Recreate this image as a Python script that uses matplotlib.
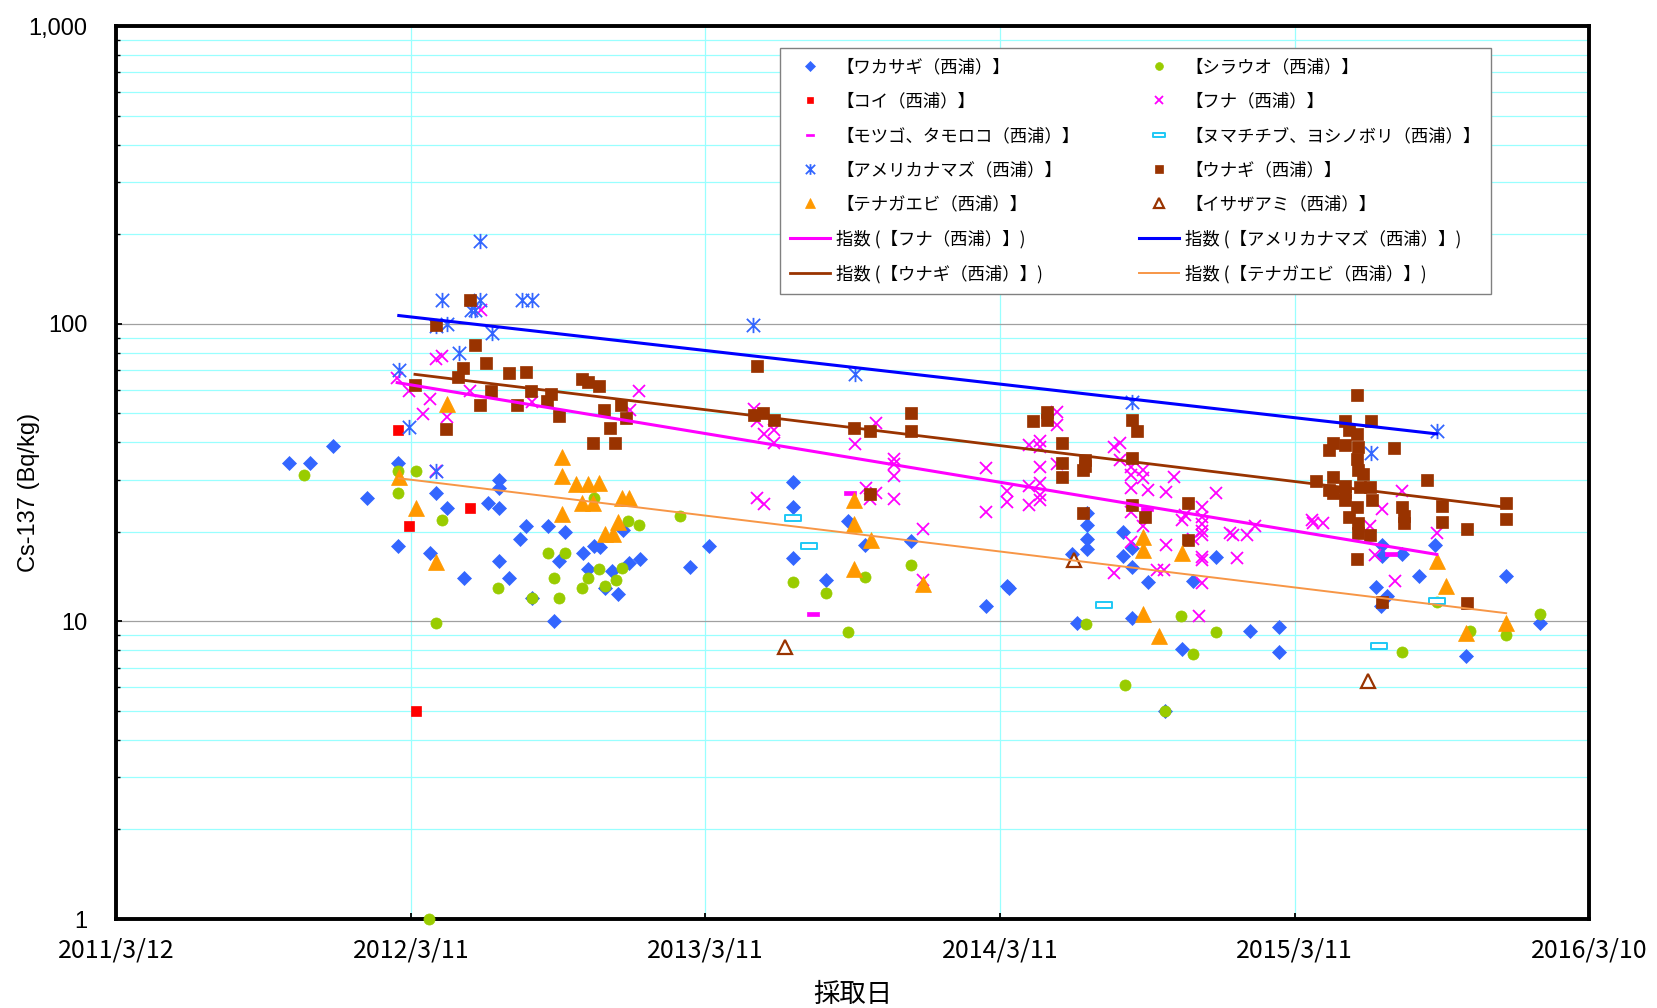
import numpy as np
import matplotlib
matplotlib.use("Agg")
import matplotlib.pyplot as plt
import matplotlib.dates as mdates
from matplotlib.path import Path
from matplotlib.ticker import FixedLocator, LogLocator, NullFormatter
import pandas as pd

plt.rcParams['font.family'] = ['Noto Sans CJK JP', 'DejaVu Sans']

# ---------------- data ----------------
xtick_labels = ["2011/3/12", "2012/3/11", "2013/3/11", "2014/3/11", "2015/3/11", "2016/3/10"]
ytick_values = [1, 10, 100, 1000]
ytick_labels = ["1", "10", "100", "1,000"]

wakasagi_dates = ["2011-10-12", "2011-11-07", "2011-12-06", "2012-01-17", "2012-02-24", "2012-02-24",
                  "2012-04-04", "2012-04-11", "2012-04-25", "2012-05-16", "2012-06-14", "2012-06-28",
                  "2012-06-28", "2012-06-28", "2012-06-28", "2012-07-10", "2012-07-24", "2012-08-01",
                  "2012-08-08", "2012-08-28", "2012-09-04", "2012-09-11", "2012-09-18", "2012-10-10",
                  "2012-10-17", "2012-10-24", "2012-10-31", "2012-11-07", "2012-11-15", "2012-11-22",
                  "2012-11-29", "2012-12-06", "2012-12-20", "2013-02-20", "2013-03-15", "2013-06-27",
                  "2013-06-27", "2013-06-27", "2013-08-07", "2013-09-03", "2013-09-24", "2013-11-21",
                  "2014-02-22", "2014-03-20", "2014-03-22", "2014-06-08", "2014-06-14", "2014-06-27",
                  "2014-06-27", "2014-06-27", "2014-06-27", "2014-08-10", "2014-08-10", "2014-08-22",
                  "2014-08-22", "2014-08-22", "2014-09-10", "2014-10-01", "2014-10-22", "2014-11-05",
                  "2014-12-03", "2015-01-14", "2015-02-20", "2015-02-20", "2015-06-20", "2015-06-26",
                  "2015-06-27", "2015-06-27", "2015-07-03", "2015-07-22", "2015-08-12", "2015-09-01",
                  "2015-10-09", "2015-11-28", "2016-01-09"]
wakasagi_values = [34, 34, 39, 26, 34, 18,
                   17, 27, 24, 14, 25, 24,
                   30, 28, 16, 14, 19, 21,
                   12, 21, 10, 16, 20, 17,
                   15, 18, 17.8, 13, 14.8, 12.4,
                   20.3, 15.7, 16.2, 15.3, 17.9, 29.5,
                   24.2, 16.3, 13.8, 21.8, 18.1, 18.7,
                   11.3, 13.2, 13.0, 16.8, 9.9, 23.1,
                   21.1, 19.0, 17.5, 20.0, 16.6, 17.6,
                   15.3, 10.3, 13.6, 5.0, 8.1, 13.7,
                   16.5, 9.3, 9.6, 7.9, 13.1, 11.3,
                   18.1, 16.6, 12.2, 16.8, 14.2, 18.1,
                   7.65, 14.2, 9.9]

shirauo_dates = ["2011-10-31", "2012-02-24", "2012-02-24", "2012-03-17", "2012-04-03", "2012-04-11",
                 "2012-04-18", "2012-06-27", "2012-08-08", "2012-08-28", "2012-09-04", "2012-09-11",
                 "2012-09-18", "2012-10-09", "2012-10-17", "2012-10-24", "2012-10-30", "2012-11-06",
                 "2012-11-20", "2012-11-27", "2012-12-05", "2012-12-19", "2013-02-08", "2013-06-27",
                 "2013-08-07", "2013-09-03", "2013-09-25", "2013-11-21", "2014-06-26", "2014-08-13",
                 "2014-10-01", "2014-10-21", "2014-11-05", "2014-12-03", "2015-07-22", "2015-09-03",
                 "2015-10-14", "2015-11-28", "2016-01-09"]
shirauo_values = [31, 32, 27, 32, 1.0, 9.9,
                  22, 13, 12, 17, 14, 12,
                  17, 13, 14, 26, 15, 13.2,
                  13.8, 15.1, 21.8, 21.1, 22.7, 13.6,
                  12.5, 9.2, 14.1, 15.5, 9.8, 6.1,
                  5.0, 10.4, 7.8, 9.2, 7.9, 11.6,
                  9.3, 9.0, 10.6]

koi_dates = ["2012-02-24", "2012-03-09", "2012-03-17", "2012-05-23"]
koi_values = [44, 21, 5.0, 24]

funa_dates = ["2012-02-23", "2012-03-09", "2012-03-26", "2012-04-04", "2012-04-11", "2012-04-11",
              "2012-04-18", "2012-04-25", "2012-05-23", "2012-06-06", "2012-08-08", "2012-12-07",
              "2012-12-19", "2013-05-10", "2013-05-14", "2013-05-14", "2013-05-22", "2013-05-22",
              "2013-06-04", "2013-06-04", "2013-09-12", "2013-09-26", "2013-10-01", "2013-10-08",
              "2013-10-08", "2013-10-30", "2013-10-30", "2013-10-30", "2013-10-30", "2013-12-06",
              "2013-12-06", "2014-02-22", "2014-02-22", "2014-03-20", "2014-03-20", "2014-04-16",
              "2014-04-16", "2014-04-16", "2014-04-30", "2014-04-30", "2014-04-30", "2014-04-30",
              "2014-04-30", "2014-04-30", "2014-05-20", "2014-05-20", "2014-05-20", "2014-07-30",
              "2014-07-30", "2014-08-07", "2014-08-07", "2014-08-20", "2014-08-20", "2014-08-20",
              "2014-08-20", "2014-08-20", "2014-09-04", "2014-09-04", "2014-09-04", "2014-09-10",
              "2014-09-22", "2014-09-30", "2014-10-02", "2014-10-02", "2014-10-12", "2014-10-22",
              "2014-10-26", "2014-11-05", "2014-11-12", "2014-11-16", "2014-11-16", "2014-11-16",
              "2014-11-16", "2014-11-16", "2014-11-16", "2014-11-16", "2014-11-16", "2014-12-03",
              "2014-12-21", "2014-12-25", "2014-12-30", "2015-01-11", "2015-01-21", "2015-04-01",
              "2015-04-03", "2015-04-15", "2015-06-12", "2015-06-18", "2015-06-27", "2015-07-13",
              "2015-07-22", "2015-09-03"]
funa_values = [65.7, 59.7, 49.9, 55.8, 76, 32,
               78, 48.7, 59.7, 111, 54.8, 51.4,
               59.5, 51.6, 47, 26, 42.6, 24.8,
               44, 39.9, 39.5, 28, 25.8, 46.5,
               27, 35.1, 33.9, 30.8, 25.8, 20.4,
               13.8, 32.7, 23.4, 27.5, 25.3, 39.2,
               28.5, 24.6, 40.3, 38.5, 33.1, 29.2,
               26.6, 25.6, 50.7, 45.8, 33.9, 38.5,
               14.6, 39.9, 35.0, 33.1, 31.0, 28.0,
               23.4, 18.5, 32.2, 30.3, 20.9, 27.7,
               14.9, 14.9, 27.3, 18.1, 30.7, 21.9,
               22.8, 19.0, 10.4, 24.3, 22.5, 21.3,
               20.2, 19.5, 16.5, 16.1, 13.5, 27.0,
               19.8, 19.5, 16.3, 19.5, 20.9, 21.9,
               21.4, 21.5, 21.0, 16.7, 23.8, 13.7,
               27.5, 19.8]

motsugo_dates = ["2013-07-22", "2013-09-06", "2014-09-09", "2015-07-08"]
motsugo_values = [10.6, 27.0, 23.9, 16.8]

numachichibu_dates = ["2013-06-27", "2013-07-17", "2014-07-18", "2015-06-24", "2015-09-03"]
numachichibu_values = [22.3, 18.0, 11.4, 8.25, 11.7]

amerika_dates = ["2012-02-25", "2012-03-09", "2012-04-11", "2012-04-11", "2012-04-18", "2012-04-25",
                 "2012-05-09", "2012-05-24", "2012-05-30", "2012-06-04", "2012-06-05", "2012-06-19",
                 "2012-07-27", "2012-08-08", "2013-05-09", "2013-09-12", "2014-08-22", "2015-06-13",
                 "2015-09-03"]
amerika_values = [70, 45.2, 98.5, 32.1, 120, 100,
                  79.7, 111, 111, 120, 190, 93,
                  120, 120, 99.5, 67.9, 54.8, 36.9,
                  43.7]

unagi_dates = ["2012-03-16", "2012-04-11", "2012-04-24", "2012-05-08", "2012-05-15", "2012-05-23",
               "2012-05-30", "2012-06-04", "2012-06-12", "2012-06-18", "2012-07-10", "2012-07-20",
               "2012-07-31", "2012-08-07", "2012-08-27", "2012-09-01", "2012-09-11", "2012-10-09",
               "2012-10-16", "2012-10-22", "2012-10-30", "2012-11-05", "2012-11-13", "2012-11-19",
               "2012-11-26", "2012-12-03", "2013-05-10", "2013-05-14", "2013-05-21", "2013-06-04",
               "2013-09-11", "2013-10-01", "2013-10-01", "2013-11-21", "2013-11-21", "2014-04-21",
               "2014-05-08", "2014-05-08", "2014-05-27", "2014-05-27", "2014-05-27", "2014-06-24",
               "2014-06-24", "2014-06-22", "2014-06-22", "2014-08-22", "2014-08-27", "2014-08-22",
               "2014-08-22", "2014-09-06", "2014-10-30", "2014-10-30", "2015-04-07", "2015-04-22",
               "2015-04-22", "2015-04-28", "2015-04-28", "2015-04-28", "2015-05-12", "2015-05-12",
               "2015-05-12", "2015-05-12", "2015-05-12", "2015-05-17", "2015-05-17", "2015-05-27",
               "2015-05-27", "2015-05-28", "2015-05-27", "2015-05-28", "2015-05-27", "2015-05-29",
               "2015-05-29", "2015-05-27", "2015-06-04", "2015-05-31", "2015-06-14", "2015-06-15",
               "2015-06-12", "2015-06-12", "2015-06-27", "2015-07-12", "2015-07-22", "2015-07-25",
               "2015-07-25", "2015-08-22", "2015-09-09", "2015-09-09", "2015-10-10", "2015-10-10",
               "2015-11-28", "2015-11-28"]
unagi_values = [62.4, 99.5, 44.3, 66.3, 71, 120,
                85, 53.2, 74.1, 59.3, 68.4, 53.2,
                69.2, 59.3, 55.1, 58, 49, 65.2,
                64, 39.9, 62, 51.5, 44.6, 39.7,
                53.4, 48.4, 49.4, 72.2, 50.3, 47.5,
                44.6, 43.7, 26.8, 50.1, 43.5, 47.1,
                50.7, 47.5, 39.9, 34.2, 30.6, 35.0,
                33.3, 32.3, 23.1, 47.7, 43.5, 35.3,
                24.6, 22.4, 25.0, 18.8, 29.7, 37.7,
                27.7, 39.9, 30.5, 27.0, 47.1, 39.2,
                28.5, 27.3, 25.6, 44.0, 22.4, 57.6,
                42.7, 38.5, 35.1, 32.3, 24.3, 21.4,
                19.8, 16.2, 31.3, 28.4, 47.1, 25.6,
                28.4, 19.5, 11.6, 38.4, 24.3, 22.6,
                21.4, 29.8, 24.4, 21.6, 20.4, 11.5,
                25.0, 22.1]

tenagaebi_dates = ["2012-02-25", "2012-03-17", "2012-04-11", "2012-04-25", "2012-09-14", "2012-09-14",
                   "2012-09-14", "2012-10-02", "2012-10-09", "2012-10-17", "2012-10-23", "2012-10-30",
                   "2012-11-07", "2012-11-16", "2012-11-22", "2012-11-27", "2012-12-06", "2013-09-11",
                   "2013-09-11", "2013-09-11", "2013-10-02", "2013-12-06", "2014-09-04", "2014-09-04",
                   "2014-09-04", "2014-09-24", "2014-10-22", "2015-09-03", "2015-09-15", "2015-10-09",
                   "2015-11-28"]
tenagaebi_values = [30.7, 24.0, 15.9, 54.0, 35.8, 30.9,
                    23.0, 29.0, 25.0, 29.0, 25.0, 29.3,
                    19.7, 19.7, 21.6, 26.0, 26.0, 25.6,
                    21.3, 15.0, 18.8, 13.4, 19.3, 17.4,
                    10.6, 8.95, 17.0, 16.0, 13.2, 9.17,
                    9.9]

isaza_dates = ["2013-06-18", "2014-06-10", "2015-06-10"]
isaza_values = [8.2, 16.1, 6.3]

# exponential trend lines (指数): values read at the first and last sample date of each series
trend_keys = ["funa", "amerika", "unagi", "tenagaebi"]
trend_start_dates = ["2012-02-23", "2012-02-25", "2012-03-16", "2012-02-25"]
trend_end_dates = ["2015-09-03", "2015-09-03", "2015-11-28", "2015-11-28"]
trend_start_values = [63.5, 106.7, 67.7, 30.3]
trend_end_values = [16.8, 42.7, 24.2, 10.66]

names = {
    "wakasagi": "【ワカサギ（西浦）】",
    "shirauo": "【シラウオ（西浦）】",
    "koi": "【コイ（西浦）】",
    "funa": "【フナ（西浦）】",
    "motsugo": "【モツゴ、タモロコ（西浦）】",
    "numachichibu": "【ヌマチチブ、ヨシノボリ（西浦）】",
    "amerika": "【アメリカナマズ（西浦）】",
    "unagi": "【ウナギ（西浦）】",
    "tenagaebi": "【テナガエビ（西浦）】",
    "isaza": "【イサザアミ（西浦）】",
}

# ---------------- styles ----------------
asterisk = Path([(-1, -1), (1, 1), (-1, 1), (1, -1), (0, -1.15), (0, 1.15)],
                [Path.MOVETO, Path.LINETO, Path.MOVETO, Path.LINETO, Path.MOVETO, Path.LINETO])
dash = Path([(-1, -0.32), (1, -0.32), (1, 0.32), (-1, 0.32), (-1, -0.32)],
            [Path.MOVETO, Path.LINETO, Path.LINETO, Path.LINETO, Path.CLOSEPOLY])

series = [
    ("wakasagi", wakasagi_dates, wakasagi_values, dict(marker='D', ms=7, mfc='#3366FF', mec='#3366FF', mew=0.5)),
    ("shirauo", shirauo_dates, shirauo_values, dict(marker='o', ms=8, mfc='#99CC00', mec='#99CC00', mew=0.5)),
    ("koi", koi_dates, koi_values, dict(marker='s', ms=7, mfc='#FF0000', mec='#FF0000', mew=0.5)),
    ("funa", funa_dates, funa_values, dict(marker='x', ms=9, mfc='#FF00FF', mec='#FF00FF', mew=1.3)),
    ("motsugo", motsugo_dates, motsugo_values, dict(marker=dash, ms=8, mfc='#FF00FF', mec='#FF00FF', mew=0.5)),
    ("numachichibu", numachichibu_dates, numachichibu_values, dict(marker=dash, ms=12, mfc='white', mec='#1EC8F5', mew=1.4)),
    ("amerika", amerika_dates, amerika_values, dict(marker=asterisk, ms=11, mfc='#3366FF', mec='#3366FF', mew=1.3)),
    ("unagi", unagi_dates, unagi_values, dict(marker='s', ms=8, mfc='#993300', mec='#993300', mew=0.5)),
    ("tenagaebi", tenagaebi_dates, tenagaebi_values, dict(marker='^', ms=11, mfc='#FF9900', mec='#FF9900', mew=0.5)),
    ("isaza", isaza_dates, isaza_values, dict(marker='^', ms=10, mfc='white', mec='#993300', mew=1.6)),
]

trend_styles = {
    "funa": ('#FF00FF', 2.2),
    "amerika": ('#0000FF', 2.2),
    "unagi": ('#993300', 2.0),
    "tenagaebi": ('#F79646', 1.4),
}


def to_num(dates):
    return mdates.date2num(pd.to_datetime(dates))


fig = plt.figure(figsize=(16.58, 10.08), dpi=100)
ax = fig.add_axes([116.3 / 1658, 89 / 1008, 1473 / 1658, 892.6 / 1008])

handles = {}
for key, d, v, st in series:
    h, = ax.plot(to_num(d), v, linestyle='none', label=names[key], clip_on=False, zorder=3, **st)
    handles[key] = h

trend_handles = {}
for key, d0, d1, v0, v1 in zip(trend_keys, trend_start_dates, trend_end_dates,
                               trend_start_values, trend_end_values):
    col, lw = trend_styles[key]
    h, = ax.plot(to_num([d0, d1]), [v0, v1], color=col, lw=lw, zorder=4,
                 label="指数 (" + names[key] + ")")
    trend_handles[key] = h

# axes
xticks = to_num([s.replace("/", "-") for s in xtick_labels])
ax.set_xlim(xticks[0], xticks[-1])
ax.set_xticks(xticks)
ax.set_xticklabels(xtick_labels, fontsize=18, family=['Noto Sans CJK JP', 'DejaVu Sans'])

ax.set_yscale('log')
ax.set_ylim(1, 1000)
ax.yaxis.set_major_locator(FixedLocator(ytick_values))
ax.set_yticklabels(ytick_labels, fontsize=17, family=['Liberation Sans', 'DejaVu Sans'])
ax.yaxis.set_minor_locator(LogLocator(base=10, subs=np.arange(2, 10)))
ax.yaxis.set_minor_formatter(NullFormatter())

ax.grid(which='minor', axis='y', color='#99FFFF', lw=0.9)
ax.grid(which='major', axis='y', color='#A0A0A0', lw=0.9)
ax.grid(which='major', axis='x', color='#99FFFF', lw=0.9)
ax.set_axisbelow(True)

for s in ax.spines.values():
    s.set_linewidth(2.8)
    s.set_color('black')

ax.tick_params(axis='x', which='major', direction='in', length=4, width=1.3, pad=13)
ax.tick_params(axis='y', which='major', direction='in', length=4, width=1.3, pad=21)
ax.tick_params(axis='y', which='minor', direction='in', length=3, width=1.0)

ax.set_ylabel("Cs-137 (Bq/kg)", fontsize=17, family=['Liberation Sans', 'DejaVu Sans'])
ax.yaxis.set_label_coords(-0.052, 0.478)
ax.set_xlabel("採取日", fontsize=19, labelpad=13)

# legend: row-major like the reference -> arrange column-major for matplotlib
col1 = [handles["wakasagi"], handles["koi"], handles["motsugo"], handles["amerika"],
        handles["tenagaebi"], trend_handles["funa"], trend_handles["unagi"]]
col2 = [handles["shirauo"], handles["funa"], handles["numachichibu"], handles["unagi"],
        handles["isaza"], trend_handles["amerika"], trend_handles["tenagaebi"]]
hs = col1 + col2
leg = ax.legend(hs, [h.get_label() for h in hs], ncol=2, loc='upper left',
                bbox_to_anchor=(0.4506, 0.700, 0.4827, 0.276), mode='expand',
                fontsize=12.5, frameon=True, fancybox=False, edgecolor='#808080',
                framealpha=1, markerscale=0.7, labelspacing=0.94, handlelength=2.3,
                handletextpad=0.35, borderpad=0.6, borderaxespad=0)
leg.get_frame().set_linewidth(1.0)
leg.set_zorder(10)

fig.savefig("out.png", dpi=100)
